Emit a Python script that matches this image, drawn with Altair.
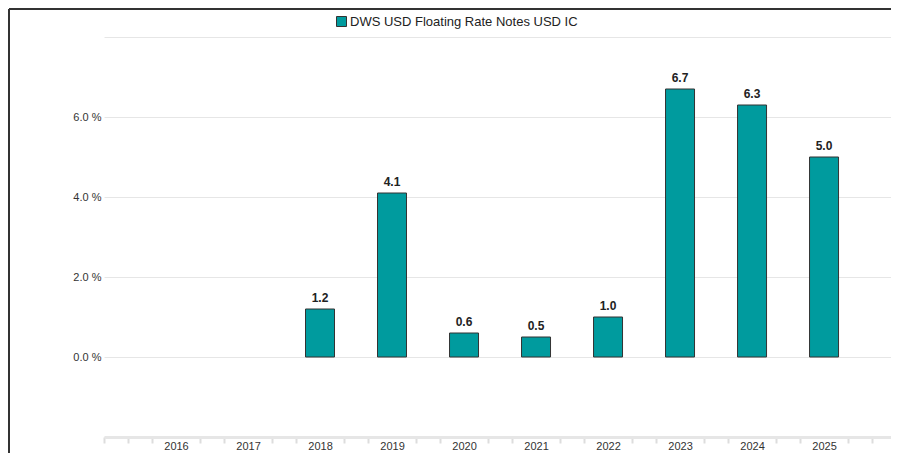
import altair as alt
import pandas as pd

years = [2016, 2017, 2018, 2019, 2020, 2021, 2022, 2023, 2024, 2025]
returns = [None, None, 1.2, 4.1, 0.6, 0.5, 1.0, 6.7, 6.3, 5.0]
series_name = "DWS USD Floating Rate Notes USD IC"
y_ticks = [-2, 0, 2, 4, 6, 8]
x_ticks = [2015 + k / 3 for k in range(33)]
x_domain = [2015, 2025.93]

teal = "#009B9E"

df = pd.DataFrame({"year": years, "value": returns, "series": [series_name] * len(years)})

is_year = "abs(datum.value - round(datum.value)) < 0.01 && datum.value > 2015.5 && datum.value < 2025.5"

x_enc = alt.X(
    "year:Q",
    title=None,
    scale=alt.Scale(domain=x_domain, nice=False, zero=False, padding=0),
    axis=alt.Axis(
        values=x_ticks,
        labelExpr=f"({is_year}) ? format(round(datum.value), 'd') : ''",
        labelOverlap=False,
        labelFlush=False,
        labelBound=False,
        labelFontSize=11,
        labelColor="#333333",
        labelPadding=-3,
        tickSize=6,
        tickWidth=2,
        tickColor="#dddddd",
        tickOpacity={"condition": {"test": is_year, "value": 0}, "value": 1},
        domainColor="#e6e6e6",
        domainWidth=3,
        grid=False,
    ),
)

y_enc = alt.Y(
    "value:Q",
    title=None,
    scale=alt.Scale(domain=[-2, 8], nice=False, zero=False, padding=0),
    axis=alt.Axis(
        values=y_ticks,
        labelExpr="datum.value >= 0 && datum.value <= 6 ? format(datum.value, '.1f') + ' %' : ''",
        labelFontSize=11,
        labelColor="#333333",
        labelPadding=3,
        labelOverlap=False,
        ticks=False,
        domain=False,
        grid=True,
        gridColor="#e6e6e6",
        gridWidth=1,
    ),
)

base = alt.Chart(df).transform_filter("isValid(datum.value)")

bars = base.mark_bar(size=29, stroke="#333333", strokeWidth=1).encode(
    x=x_enc,
    y=y_enc,
    color=alt.Color(
        "series:N",
        scale=alt.Scale(domain=[series_name], range=[teal]),
        legend=alt.Legend(
            title=None,
            orient="none",
            legendX=231,
            legendY=-22,
            symbolType="square",
            symbolSize=100,
            symbolStrokeColor="#333333",
            symbolStrokeWidth=1,
            symbolOpacity=1,
            labelFontSize=13,
            labelColor="#222222",
            labelOffset=2,
            labelLimit=500,
            padding=0,
        ),
    ),
)

labels = base.mark_text(
    fontSize=12, fontWeight="bold", color="#222222", baseline="alphabetic", dy=-7
).encode(
    x=x_enc,
    y=y_enc,
    text=alt.Text("value:Q", format=".1f"),
)

border_left = alt.Chart(df).mark_rule(color="#333333", strokeWidth=2).encode(
    x=alt.value(-95), y=alt.value(-28), y2=alt.value(420)
)
border_top = alt.Chart(df).mark_rule(color="#333333", strokeWidth=2).encode(
    x=alt.value(-95), x2=alt.value(787), y=alt.value(-28)
)

chart = (
    alt.layer(bars, labels, border_left, border_top)
    .properties(
        width=787,
        height=400,
        autosize=alt.AutoSizeParams(type="none"),
        padding={"left": 96, "top": 29, "right": 0, "bottom": 16},
    )
    .configure(font="Liberation Sans")
    .configure_axisX(labelOverlap=False)
    .configure_view(stroke=None)
)

chart.save("out.html", embed_options={"renderer": "svg", "actions": False})
